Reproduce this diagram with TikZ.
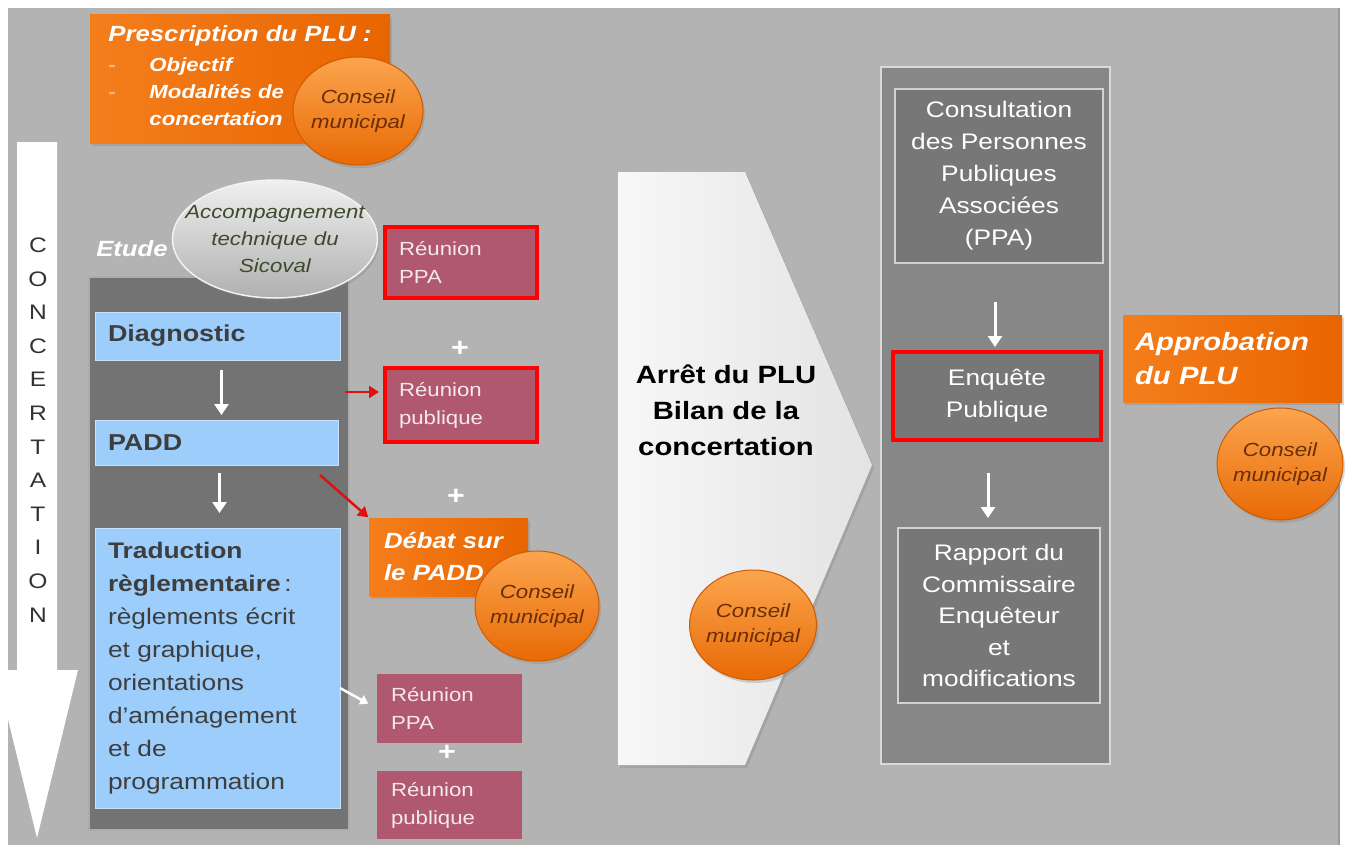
\documentclass[tikz,border=0pt]{standalone}
\usepackage{fontspec}
\setmainfont[FakeStretch=1.17]{Liberation Sans}
\usetikzlibrary{shapes.geometric,arrows.meta,shadows}
\definecolor{bggray}{HTML}{B3B3B3}
\definecolor{orA}{HTML}{F47E1C}
\definecolor{orB}{HTML}{E86500}
\definecolor{cirTop}{HTML}{FBA54E}
\definecolor{cirBot}{HTML}{E86A05}
\definecolor{cirEdge}{HTML}{CF5A00}
\definecolor{cirText}{HTML}{6A2E05}
\definecolor{lblue}{HTML}{9CCDFB}
\definecolor{lbText}{HTML}{3E3E3E}
\definecolor{mauve}{HTML}{B0586F}
\definecolor{mauveText}{HTML}{F5E8EC}
\definecolor{darkbox}{HTML}{737373}
\definecolor{panelgray}{HTML}{878787}
\definecolor{innergray}{HTML}{777777}
\definecolor{olive}{HTML}{3E4A2C}
\definecolor{bulletor}{HTML}{F9B77A}
\definecolor{redline}{HTML}{FF0000}
\definecolor{redarr}{HTML}{E01010}
\definecolor{lettergray}{HTML}{333333}
\newcommand\myfs[2]{\fontsize{#1}{#2}\selectfont}
\begin{document}
\begin{tikzpicture}[x=1pt,y=-1pt,
  every node/.style={inner sep=0pt, outer sep=0pt},
  shadowed/.style={drop shadow={opacity=0.3, shadow xshift=2pt, shadow yshift=-3pt}},
  orangebox/.style={left color=orA, right color=orB, shadowed, text=white},
  conseil/.style={ellipse, top color=cirTop, bottom color=cirBot, draw=cirEdge, line width=1,
     text=cirText, font=\myfs{19}{25}\itshape, align=center, inner xsep=-15pt, shadowed},
  lbbox/.style={fill=lblue, draw=lblue!60!white, line width=1, text=lbText, align=left, inner xsep=13pt},
  reunion/.style={fill=mauve, text=mauveText, font=\myfs{19}{28}, align=left, inner xsep=14pt},
  redframe/.style={draw=redline, line width=4},
  innerbox/.style={fill=innergray, draw=gray!35, line width=1.5, text=white, font=\myfs{22.5}{32}, align=center},
  whitearrow/.style={draw=white, line width=3, -{Triangle[width=14pt,length=11pt]}},
  redarrow/.style={draw=redarr, line width=2.5, -{Triangle[width=12pt,length=10pt]}},
  plus/.style={text=white, font=\myfs{26}{26}\bfseries}]
\useasboundingbox (0,0) rectangle (1346,852);
\fill[white] (0,0) rectangle (1346,852);
\fill[bggray] (8,8) rectangle (1340,845);
\draw[gray!80, line width=1.5] (1339,8) -- (1339,845);

% concertation arrow
\fill[white] (17,142) -- (57,142) -- (57,670) -- (78,670) -- (37,838) -- (-4,670) -- (17,670) -- cycle;
\node[text=lettergray, font=\myfs{21}{33.6}, align=center] (concert) at (38,430)
  {C\\O\\N\\C\\E\\R\\T\\A\\T\\I\\O\\N};

% prescription
\node[orangebox, minimum width=300, minimum height=129, anchor=north west] (presc) at (90,14)
  {\myfs{19}{27}\bfseries\itshape\begin{tabular}{@{}p{41pt}@{}l@{}}
   \multicolumn{2}{@{}l@{}}{\myfs{22}{27}Prescription du PLU :}\\[3pt]
   \textcolor{bulletor}{-} & Objectif\\
   \textcolor{bulletor}{-} & Modalités de\\
    & concertation
   \end{tabular}};
\node[conseil, minimum width=130, minimum height=108] (cm1) at (358,111) {Conseil\\municipal};

% Etude block
\node[fill=darkbox, draw=gray!65, line width=2, minimum width=260, minimum height=553, anchor=north west] (etudebox) at (89,277) {};
\node[text=white, font=\myfs{22}{26}\bfseries\itshape] (etude) at (132,249) {Etude};
\node[ellipse, minimum width=205, minimum height=118, top color=gray!12, bottom color=gray!62,
  draw=gray!10, line width=1.5, inner xsep=-25pt, text=olive, font=\myfs{19}{27}\itshape, align=center, shadowed]
  (accomp) at (275,239) {Accompagnement\\technique du\\Sicoval};

\node[lbbox, minimum width=245, minimum height=48, text width=219, anchor=north west,
  font=\myfs{23}{28}\bfseries] (diag) at (95,312) {Diagnostic};
\node[lbbox, minimum width=243, minimum height=45, text width=217, anchor=north west,
  font=\myfs{23}{28}\bfseries] (padd) at (95,420) {PADD};
\node[lbbox, minimum width=245, minimum height=280, text width=219, anchor=north west,
  font=\myfs{22.5}{33}] (trad) at (95,528)
  {\textbf{Traduction}\\\textbf{règlementaire}\,:\\règlements écrit\\et graphique,\\orientations\\d'aménagement\\et de\\programmation};

\draw[whitearrow, shorten <=10pt, shorten >=5pt] ([xshift=4pt]diag.south) -- ([xshift=4pt]diag.south |- padd.north);
\draw[whitearrow, shorten <=8pt, shorten >=15pt] ([xshift=3pt]padd.south) -- ([xshift=3pt]padd.south |- trad.north);

% reunions
\node[reunion, redframe, minimum width=152, minimum height=71, text width=124, anchor=north west] (rppa1) at (385,227) {Réunion\\PPA};
\node[plus] (plus1) at (460,349) {+};
\node[reunion, redframe, minimum width=152, minimum height=74, text width=124, anchor=north west] (rpub1) at (385,368) {Réunion\\publique};
\node[plus] (plus2) at (456,497) {+};
\node[orangebox, minimum width=159, minimum height=78, text width=129, inner xsep=15pt, align=left,
  font=\myfs{22}{32}\bfseries\itshape, anchor=north west] (debat) at (369,518) {Débat sur\\le PADD};
\node[conseil, minimum width=124, minimum height=110] (cm2) at (537,606) {Conseil\\municipal};
\node[reunion, minimum width=145, minimum height=69, text width=117, anchor=north west] (rppa2) at (377,674) {Réunion\\PPA};
\node[plus] (plus3) at (447,753) {+};
\node[reunion, minimum width=145, minimum height=68, text width=117, anchor=north west] (rpub2) at (377,771) {Réunion\\publique};

\coordinate (ry) at (0,392);
\draw[redarrow, shorten >=6pt] ([xshift=-4pt]etudebox.east |- ry) -- (rpub1.west |- ry);
\coordinate (ra2) at (320,475);
\draw[redarrow, shorten >=1pt] (ra2) -- (debat.north west);
\coordinate (wa3) at (0,688);
\draw[draw=white, line width=2.5, -{Triangle[width=10pt,length=8pt]}, shorten >=10pt] (trad.east |- wa3) -- (rppa2.west);

% chevron
\path[left color=gray!6, right color=gray!22, shadowed] (618,172) -- (745,172) -- (872,465) -- (745,765) -- (618,765) -- cycle;
\node[font=\myfs{25}{36}\bfseries, align=center] (arret) at (726,410) {Arrêt du PLU\\Bilan de la\\concertation};
\node[conseil, minimum width=127, minimum height=110] (cm3) at (753,625) {Conseil\\municipal};

% right panel
\node[fill=panelgray, draw=gray!30, line width=2, minimum width=229, minimum height=697, anchor=north west] (panel) at (881,67) {};
\node[innerbox, minimum width=208, minimum height=174, anchor=north west] (consult) at (895,89)
  {Consultation\\des Personnes\\Publiques\\Associées\\(PPA)};
\node[innerbox, redframe, minimum width=208, minimum height=88, anchor=north west] (enquete) at (893,352)
  {Enquête\\Publique};
\node[innerbox, minimum width=202, minimum height=175, anchor=north west, font=\myfs{22.5}{31.5}] (rapport) at (898,528)
  {Rapport du\\Commissaire\\Enquêteur\\et\\modifications};
\draw[whitearrow, shorten <=39pt, shorten >=5pt] ([xshift=-4pt]consult.south) -- ([xshift=-4pt]consult.south |- enquete.north);
\draw[whitearrow, shorten <=33pt, shorten >=10pt] ([xshift=-9pt]enquete.south) -- ([xshift=-9pt]enquete.south |- rapport.north);

% approbation
\node[orangebox, minimum width=219, minimum height=87, text width=195, inner xsep=12pt, align=left,
  font=\myfs{25}{34}\bfseries\itshape, anchor=north west] (approb) at (1123,315) {Approbation\\du PLU};
\node[conseil, minimum width=126, minimum height=112] (cm4) at (1280,464) {Conseil\\municipal};
\end{tikzpicture}
\end{document}
